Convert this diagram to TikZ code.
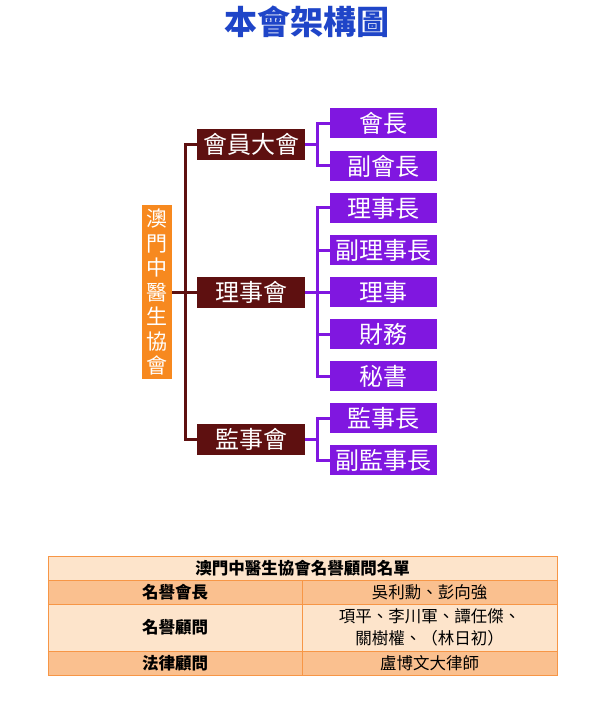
\documentclass[tikz,border=0pt]{standalone}
\usepackage{fontspec}
\setmainfont{Noto Sans CJK TC}
\usetikzlibrary{positioning, calc}
\definecolor{orgbrown}{HTML}{5E1010}
\definecolor{orgpurple}{HTML}{8017E0}
\definecolor{orgorange}{HTML}{F7891F}
\definecolor{titleblue}{HTML}{1F45C8}
\definecolor{tabdark}{HTML}{FAC08F}
\definecolor{tablight}{HTML}{FDE4CB}
\definecolor{tabline}{HTML}{F79646}
\tikzset{
  unitbox/.style={fill=orgbrown, text=white, minimum width=108pt, minimum height=31pt, inner sep=0pt, font=\fontsize{24}{24}\selectfont},
  postbox/.style={fill=orgpurple, text=white, minimum width=107pt, minimum height=30pt, inner sep=0pt, font=\fontsize{24}{24}\selectfont},
  bline/.style={draw=orgbrown, line width=3pt},
  pline/.style={draw=orgpurple, line width=3pt},
  cell/.style={draw=tabline, line width=0.8pt, inner sep=0pt, align=center, font=\fontsize{16.5}{22}\selectfont}
}

\begin{document}
\begin{tikzpicture}[x=1pt, y=-1pt]
    \useasboundingbox[fill=white] (0,0) rectangle (608,711);
    % title
    \node[text=titleblue, font=\fontsize{33}{33}\selectfont\bfseries] (title) at (307,22) {本會架構圖};

    % association
    \node[fill=orgorange, text=white, minimum width=30pt, minimum height=173pt, inner sep=0pt, align=center,
          font=\fontsize{21}{24.5}\selectfont] (assoc) at (157,292) {澳\\門\\中\\醫\\生\\協\\會};

    % units
    \node[unitbox] (hy) at (251,144.5) {會員大會};
    \node[unitbox] (lsh) at (251,292) {理事會};
    \node[unitbox] (jsh) at (251,439.5) {監事會};

    % posts
    \node[postbox] (hz) at (383.5,123.5) {會長};
    \node[postbox] (fhz) at (383.5,166) {副會長};
    \node[postbox] (lsz) at (383.5,208) {理事長};
    \node[postbox] (flsz) at (383.5,250) {副理事長};
    \node[postbox] (ls) at (383.5,292) {理事};
    \node[postbox] (cw) at (383.5,334) {財務};
    \node[postbox] (ms) at (383.5,376) {秘書};
    \node[postbox] (jsz) at (383.5,418) {監事長};
    \node[postbox] (fjsz) at (383.5,460) {副監事長};

    % trunk
    \coordinate (trunk) at (185,0);
    \draw[bline] (assoc.east) -- (assoc.east -| trunk);
    \draw[bline] (hy.west) -- (hy.west -| trunk) -- (jsh.west -| trunk) -- (jsh.west);
    \draw[bline] (lsh.west -| trunk) -- (lsh.west);

    % brackets
    \coordinate (br) at (317,0);
    \draw[pline] (hy.east) -- (hy.east -| br);
    \draw[pline] (hz.west) -- (hz.west -| br) -- (fhz.west -| br) -- (fhz.west);
    \draw[pline] (lsh.east) -- (lsh.east -| br);
    \draw[pline] (lsz.west) -- (lsz.west -| br) -- (ms.west -| br) -- (ms.west);
    \foreach \p in {flsz, ls, cw}
      \draw[pline] (\p.west -| br) -- (\p.west);
    \draw[pline] (jsh.east) -- (jsh.east -| br);
    \draw[pline] (jsz.west) -- (jsz.west -| br) -- (fjsz.west -| br) -- (fjsz.west);

    % honorary table
    \node[cell, fill=tablight, minimum width=509pt, minimum height=24pt, font=\fontsize{16.5}{22}\selectfont\bfseries] (thead) at (302.5,568) {澳門中醫生協會名譽顧問名單};
    \node[cell, fill=tabdark, minimum width=254pt, minimum height=24pt, font=\fontsize{16.5}{22}\selectfont\bfseries] (ta1) at (175,592) {名譽會長};
    \node[cell, fill=tabdark, minimum width=255pt, minimum height=24pt] (tb1) at (429.5,592) {吳利勳、彭向強};
    \node[cell, fill=tablight, minimum width=254pt, minimum height=47pt, font=\fontsize{16.5}{22}\selectfont\bfseries] (ta2) at (175,627.5) {名譽顧問};
    \node[cell, fill=tablight, minimum width=255pt, minimum height=47pt] (tb2) at (429.5,627.5) {項平、李川軍、譚任傑、\\關樹權、（林日初）};
    \node[cell, fill=tabdark, minimum width=254pt, minimum height=24pt, font=\fontsize{16.5}{22}\selectfont\bfseries] (ta3) at (175,663) {法律顧問};
    \node[cell, fill=tabdark, minimum width=255pt, minimum height=24pt] (tb3) at (429.5,663) {盧博文大律師};
\end{tikzpicture}
\end{document}
